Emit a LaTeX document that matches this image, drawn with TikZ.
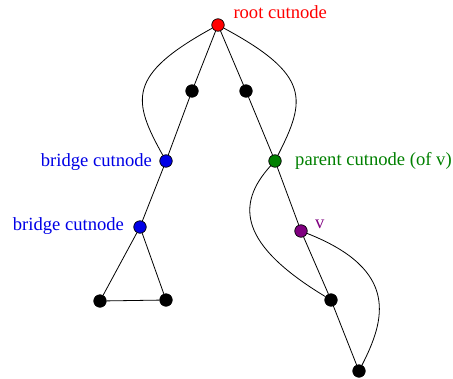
\documentclass[tikz,border=0pt]{standalone}
\usepackage{fontspec}
\setmainfont{Liberation Serif}
\definecolor{cgreen}{RGB}{0,128,0}
\definecolor{cpurple}{RGB}{128,0,128}
\definecolor{cblue}{RGB}{0,0,230}
\begin{document}
\begin{tikzpicture}[x=1pt,y=-1pt,
  vtx/.style={circle,draw=black,line width=0.7pt,minimum size=12.5pt,inner sep=0pt,fill=black},
  edge/.style={draw=black,line width=0.8pt},
  lab/.style={anchor=base west,inner sep=0pt,font=\fontsize{18.6}{22}\selectfont}]
\useasboundingbox (0,0) rectangle (453,378);
% vertices
\node[vtx,fill=red] (r) at (218,25) {};
\node[vtx] (a1) at (192,91) {};
\node[vtx] (a2) at (246,91) {};
\node[vtx,fill=cblue] (b1) at (166,161) {};
\node[vtx,fill=cgreen] (p) at (275,161) {};
\node[vtx,fill=cblue] (b2) at (140,227) {};
\node[vtx,fill=cpurple] (v) at (301,231) {};
\node[vtx] (t1) at (100,301) {};
\node[vtx] (t2) at (166,300) {};
\node[vtx] (w) at (331,300) {};
\node[vtx] (z) at (359,371) {};
% labels
\node[lab,text=red] (lr) at (233.3,18.3) {root cutnode};
\node[lab,text=cblue] (lb1) at (40.7,166.5) {bridge cutnode};
\node[lab,text=cgreen] (lp) at (295,165.5) {parent cutnode (of v)};
\node[lab,text=cblue] (lb2) at (12.7,230) {bridge cutnode};
\node[lab,text=cpurple] (lv) at (315,228.3) {v};
% straight edges
\draw[edge] (r) -- (a1);
\draw[edge] (r) -- (a2);
\draw[edge] (a1) -- (b1);
\draw[edge] (a2) -- (p);
\draw[edge] (b1) -- (b2);
\draw[edge] (b2) -- (t1);
\draw[edge] (b2) -- (t2);
\draw[edge] (t1) -- (t2);
\draw[edge] (p) -- (v);
\draw[edge] (v) -- (w);
\draw[edge] (w) -- (z);
% curved edges
\draw[edge] (r) .. controls (127,75) and (132,100) .. (b1);
\draw[edge] (r) .. controls (311,75) and (306,100) .. (p);
\draw[edge] (p) .. controls (235,205) and (240,245) .. (w);
\draw[edge] (v) .. controls (400,270) and (385,320) .. (z);
\end{tikzpicture}
\end{document}
